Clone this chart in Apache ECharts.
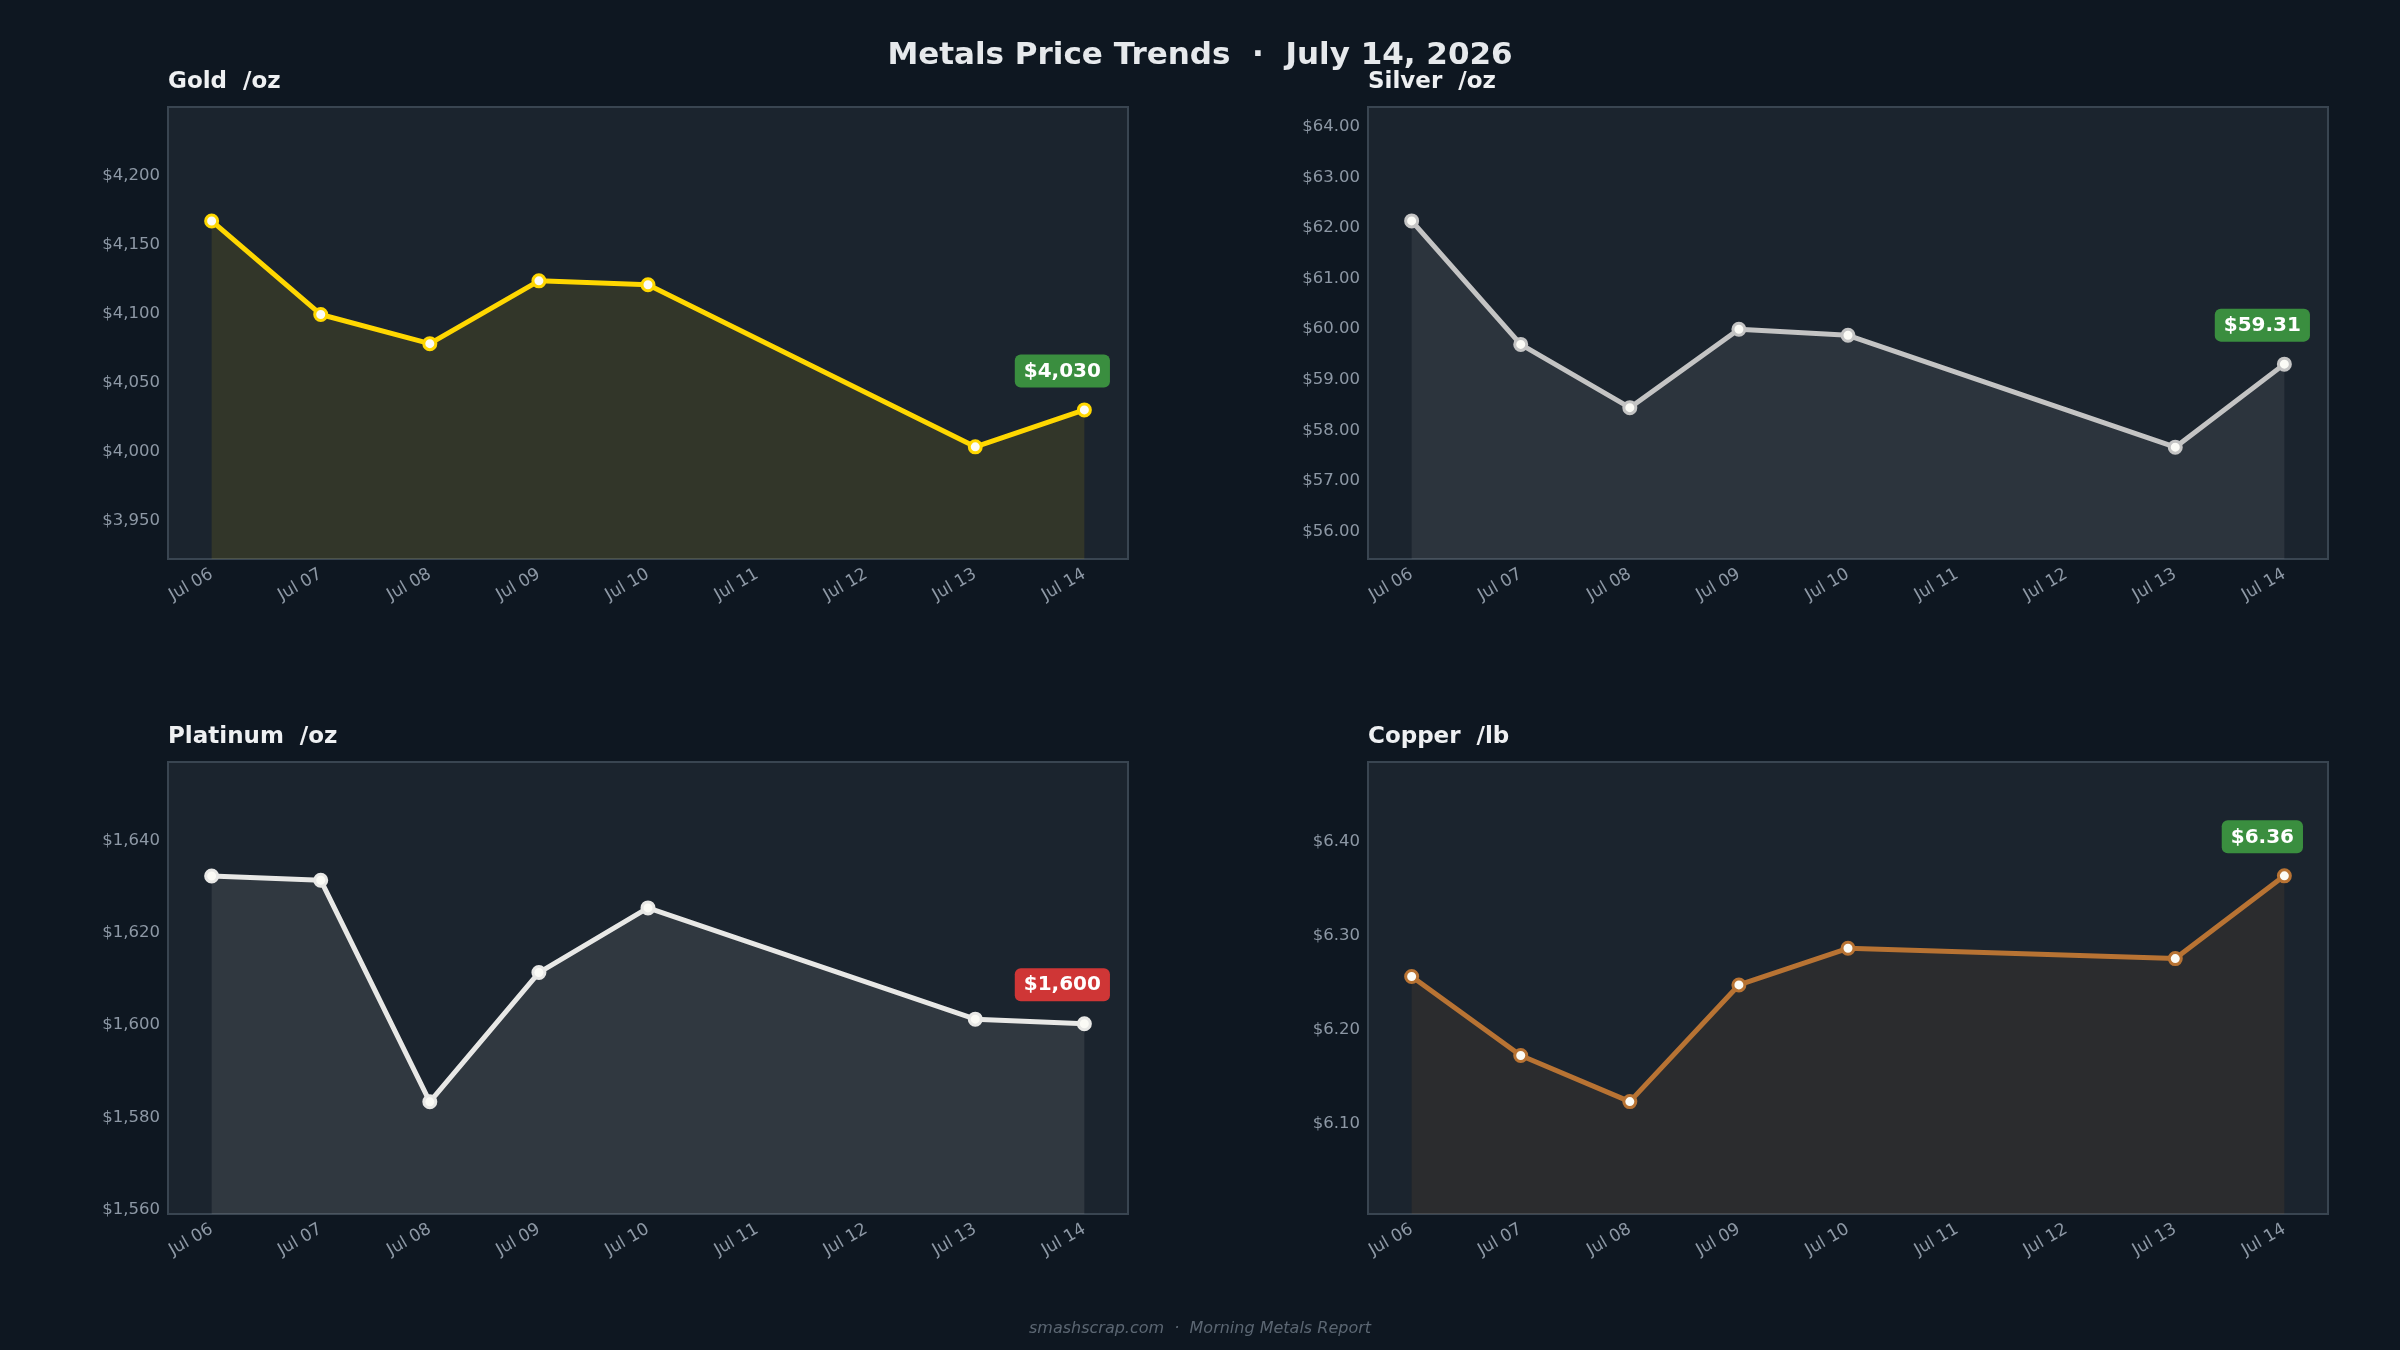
<!DOCTYPE html>
<html>
<head>
<meta charset="utf-8">
<title>Metals Price Trends</title>
<script src="https://cdn.jsdelivr.net/npm/echarts@6/dist/echarts.min.js"></script>
<style>
  html, body { margin: 0; padding: 0; background: #0e1721; }
  #chart { width: 2400px; height: 1350px; }
</style>
</head>
<body>
<div id="chart"></div>
<script>
// data (Jul 11 / Jul 12 have no quotes)
const dates = ['Jul 06', 'Jul 07', 'Jul 08', 'Jul 09', 'Jul 10', 'Jul 11', 'Jul 12', 'Jul 13', 'Jul 14'];
const goldPrices = [4167.0, 4099.4, 4078.3, 4123.7, 4120.9, null, null, 4003.7, 4030.4];
const silverPrices = [62.14, 59.70, 58.45, 60.00, 59.88, null, null, 57.67, 59.31];
const platinumPrices = [1632.3, 1631.4, 1583.4, 1611.4, 1625.4, null, null, 1601.3, 1600.3];
const copperPrices = [6.257, 6.173, 6.124, 6.248, 6.287, null, null, 6.276, 6.364];

// y ranges and tick steps
const goldRange = [3922.6, 4249.4], goldStep = 50;
const silverRange = [55.46, 64.39], silverStep = 1;
const platinumRange = [1559.1, 1657.0], platinumStep = 20;
const copperRange = [6.0045, 6.485], copperStep = 0.1;

const fmtInt = v => '$' + Math.round(v).toLocaleString('en-US');
const fmt2 = v => '$' + v.toFixed(2);

const panels = [
  { name: 'Gold  /oz', vals: goldPrices, range: goldRange, step: goldStep, fmt: fmtInt, color: '#FFD700', left: 168, top: 107 },
  { name: 'Silver  /oz', vals: silverPrices, range: silverRange, step: silverStep, fmt: fmt2, color: '#C4C4C4', left: 1368, top: 107 },
  { name: 'Platinum  /oz', vals: platinumPrices, range: platinumRange, step: platinumStep, fmt: fmtInt, color: '#E8E8E6', left: 168, top: 762 },
  { name: 'Copper  /lb', vals: copperPrices, range: copperRange, step: copperStep, fmt: fmt2, color: '#B87333', left: 1368, top: 762 }
];

const FONT = 'DejaVu Sans';
const labelColor = '#8d98a5';

const grids = [], xAxes = [], yAxes = [], series = [];
const titles = [{
  text: 'Metals Price Trends  \u00b7  July 14, 2026',
  left: 'center', top: 40, padding: 0,
  textStyle: { color: '#e6e9ec', fontSize: 31, fontWeight: 'bold', fontFamily: FONT }
}, {
  text: 'smashscrap.com  \u00b7  Morning Metals Report',
  left: 'center', top: 1321, padding: 0,
  textStyle: { color: '#5b6672', fontSize: 16, fontStyle: 'italic', fontWeight: 'normal', fontFamily: FONT }
}];

panels.forEach((p, k) => {
  titles.push({
    text: p.name, left: p.left, top: p.top - 36, padding: 0,
    textStyle: { color: '#eef0f2', fontSize: 23, fontWeight: 'bold', fontFamily: FONT }
  });
  grids.push({
    left: p.left, top: p.top, width: 960, height: 452,
    show: true, backgroundColor: '#1b242e', borderColor: '#394551', borderWidth: 2
  });
  xAxes.push({
    type: 'value', gridIndex: k, min: -0.4, max: 8.4, minInterval: 1, maxInterval: 1,
    axisLine: { show: false }, axisTick: { show: false }, splitLine: { show: false },
    axisLabel: {
      rotate: 30, margin: 14, color: labelColor, fontSize: 17, fontFamily: FONT,
      formatter: v => (Math.abs(v - Math.round(v)) < 1e-6 && dates[Math.round(v)]) ? dates[Math.round(v)] : ''
    }
  });
  yAxes.push({
    type: 'value', gridIndex: k, min: p.range[0], max: p.range[1],
    minInterval: p.step, maxInterval: p.step,
    axisLine: { show: false }, axisTick: { show: false }, splitLine: { show: false },
    axisLabel: {
      margin: 8, color: labelColor, fontSize: 16.5, fontFamily: FONT,
      formatter: v => Math.abs(v / p.step - Math.round(v / p.step)) < 1e-6 ? p.fmt(v) : ''
    }
  });

  const pts = [];
  p.vals.forEach((v, i) => { if (v != null) pts.push([i, v]); });
  const last = pts[pts.length - 1], prev = pts[pts.length - 2];
  const up = last[1] >= prev[1];
  const data = pts.map(pt => pt);
  data[data.length - 1] = {
    value: last,
    label: {
      show: true, position: 'top', distance: 15, offset: [-22, 0],
      formatter: () => p.fmt(last[1]),
      backgroundColor: up ? '#3a8e3f' : '#cf3636',
      borderRadius: 6, padding: [7, 9, 6, 9],
      color: '#ffffff', fontSize: 20, fontWeight: 'bold', fontFamily: FONT
    }
  };
  series.push({
    type: 'line', xAxisIndex: k, yAxisIndex: k, data: data,
    symbol: 'circle', symbolSize: 12, showAllSymbol: true,
    lineStyle: { color: p.color, width: 5 },
    itemStyle: { color: '#fbfbf6', borderColor: p.color, borderWidth: 3 },
    areaStyle: { color: p.color, opacity: 0.1, origin: 'start' },
    emphasis: { disabled: true },
    animation: false, z: 3
  });
});

const chart = echarts.init(document.getElementById('chart'));
chart.setOption({
  backgroundColor: '#0e1721',
  animation: false,
  title: titles,
  grid: grids,
  xAxis: xAxes,
  yAxis: yAxes,
  series: series
});
</script>
</body>
</html>
